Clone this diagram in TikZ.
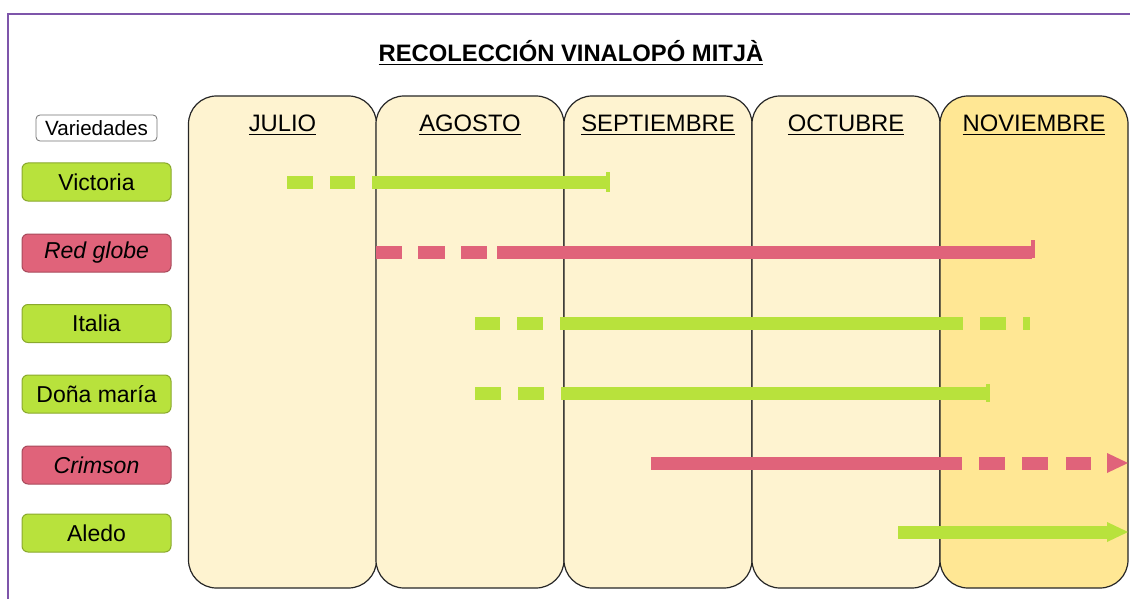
\documentclass[tikz,border=0pt]{standalone}
\usepackage{fontspec}
\setmainfont{Liberation Sans}
\usetikzlibrary{arrows.meta}

\definecolor{cream}{HTML}{FEF3D0}
\definecolor{gold}{HTML}{FFE794}
\definecolor{lime}{HTML}{B8E23C}
\definecolor{rose}{HTML}{E0637A}
\definecolor{framecol}{HTML}{7E55AA}

\begin{document}
\begin{tikzpicture}[x=0.5pt,y=-0.5pt]
  \tikzset{month/.style = {draw=black!85,rounded corners=14pt,minimum width=94pt,minimum height=246pt,inner sep=0pt,line width=0.6pt}}
  \tikzset{monthlbl/.style = {font=\fontsize{11.9}{14}\selectfont,inner sep=1pt}}
  \tikzset{grape/.style = {draw=#1!75!black,fill=#1,rounded corners=3pt,minimum width=74.5pt,minimum height=19pt,inner sep=0pt,line width=0.5pt,font=\fontsize{11.5}{13}\selectfont}}
  \tikzset{gbar/.style = {draw=lime,line width=6.5pt}}
  \tikzset{rbar/.style = {draw=rose,line width=6.5pt}}

  \useasboundingbox (0,0) rectangle (1130,599);
  \draw[framecol,line width=0.8pt] (8,599) -- (8,14) -- (1130,14);

  \node[font=\bfseries\fontsize{11.9}{14}\selectfont] (title) at (571,53) {\underline{RECOLECCIÓN VINALOPÓ MITJÀ}};

  % months
  \node[month,fill=cream] (jul) at (282.5,342) {};
  \node[month,fill=cream] (ago) at (470,342) {};
  \node[month,fill=cream] (sep) at (658,342) {};
  \node[month,fill=cream] (oct) at (846,342) {};
  \node[month,fill=gold] (nov) at (1034,342) {};
  \foreach \m/\txt in {jul/JULIO,ago/AGOSTO,sep/SEPTIEMBRE,oct/OCTUBRE,nov/NOVIEMBRE}
    \node[monthlbl] (\m-lbl) at ([yshift=-15pt]\m.north) {\underline{\txt}};

  % varieties
  \node[draw=black!55,fill=white,rounded corners=2pt,minimum width=60.5pt,minimum height=13pt,inner sep=0pt,font=\fontsize{10.3}{12}\selectfont] (var) at (96.5,128) {Variedades};
  \node[grape=lime] (vic) at (96.5,182) {Victoria};
  \node[grape=rose] (red) at (96.5,253) {\itshape Red globe};
  \node[grape=lime] (ita) at (96.5,323.5) {Italia};
  \node[grape=lime] (don) at (96.5,394) {Doña maría};
  \node[grape=rose] (cri) at (96.5,465) {\itshape Crimson};
  \node[grape=lime] (ale) at (96.5,533) {Aledo};

  % Victoria
  \foreach \a/\b in {287/313,330/355,372/608}
    \draw[gbar] (\a,182) -- (\b,182);
  \draw[lime,line width=2pt] (608,172.5) -- (608,191.5);
  % Red globe
  \foreach \a/\b in {376/402,418/445,461/487,497/1032}
    \draw[rbar] (\a,252) -- (\b,252);
  \draw[rose,line width=2pt] (1032.5,240) -- (1032.5,258);
  % Italia
  \foreach \a/\b in {475/500,517/543,560/963,980/1006,1023/1030}
    \draw[gbar] (\a,323) -- (\b,323);
  % Dona maria
  \foreach \a/\b in {475/501,518/544,561/987}
    \draw[gbar] (\a,393) -- (\b,393);
  \draw[lime,line width=2pt] (988,384) -- (988,402);
  % Crimson
  \foreach \a/\b in {651/962,979/1005,1022/1048,1066/1091}
    \draw[rbar] (\a,463) -- (\b,463);
  \fill[rose] (1107,453) -- (1128,463) -- (1107,473) -- cycle;
  % Aledo
  \draw[gbar] (898,532) -- (1108,532);
  \fill[lime] (1107,522) -- (1128,532) -- (1107,542) -- cycle;
\end{tikzpicture}
\end{document}
